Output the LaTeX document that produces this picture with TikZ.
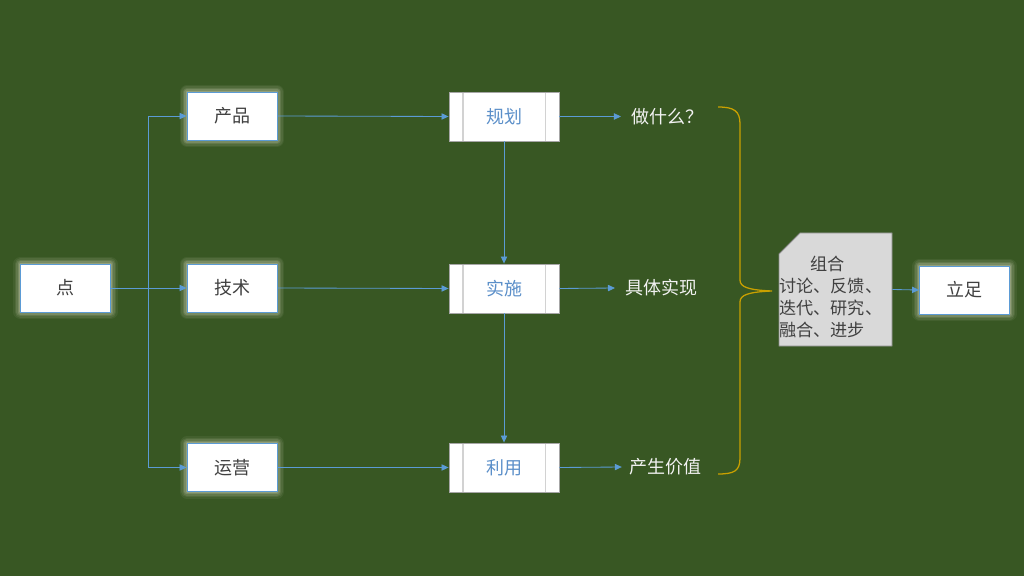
\documentclass[tikz,border=0pt]{standalone}
\usepackage{fontspec}
\setmainfont{Noto Sans CJK SC}
\usetikzlibrary{arrows.meta}
\definecolor{bg}{HTML}{385723}
\definecolor{lblue}{HTML}{5B9BD5}
\definecolor{ptext}{HTML}{5B8FC9}
\definecolor{dtext}{HTML}{404040}
\definecolor{glowc}{HTML}{E0E0C8}
\definecolor{brace}{HTML}{C9A000}
\definecolor{snipfill}{HTML}{D9D9D9}
\definecolor{snipdraw}{HTML}{8C8C8C}
\tikzset{
  glowbox/.style={draw=lblue, line width=0.6pt, fill=white, minimum width=2.25cm, minimum height=1.2cm,
    text=dtext, font=\fontsize{12.8}{15}\selectfont, inner sep=0pt,
    preaction={draw=glowc, line width=10pt, opacity=0.07, line join=round},
    preaction={draw=glowc, line width=8pt, opacity=0.09, line join=round},
    preaction={draw=glowc, line width=6pt, opacity=0.12, line join=round},
    preaction={draw=glowc, line width=4pt, opacity=0.18, line join=round},
    preaction={draw=glowc, line width=2pt, opacity=0.25, line join=round}},
  procbox/.style={draw=gray!70, line width=0.6pt, fill=white, minimum width=2.75cm, minimum height=1.225cm,
    text=ptext, font=\fontsize{12.8}{15}\selectfont, inner sep=0pt,
    path picture={
      \draw[gray!35, line width=0.8pt] ([xshift=0.35cm]path picture bounding box.north west) -- ([xshift=0.35cm]path picture bounding box.south west);
      \draw[gray!35, line width=0.8pt] ([xshift=-0.33cm]path picture bounding box.north east) -- ([xshift=-0.33cm]path picture bounding box.south east);
    }},
  sidetext/.style={text=white!95!black, font=\fontsize{12.8}{15}\selectfont, inner sep=0pt},
  conn/.style={draw=lblue, line width=0.6pt},
  arr/.style={conn, -{Triangle[length=5pt,width=4.5pt]}}
}
\begin{document}
\begin{tikzpicture}[x=0.025cm,y=-0.025cm]
\fill[bg] (0,0) rectangle (1024,576);
\useasboundingbox (0,0) rectangle (1024,576);

\node[glowbox] (dian) at (65.5,288) {点};
\node[glowbox] (chanpin) at (232,116) {产品};
\node[glowbox] (jishu) at (232,288) {技术};
\node[glowbox] (yunying) at (232,467.5) {运营};

\node[procbox] (guihua) at (504,116.5) {规划};
\node[procbox] (shishi) at (504,288.5) {实施};
\node[procbox] (liyong) at (504,467.5) {利用};

\node[sidetext, anchor=west] (zuo) at (631,116.5) {做什么？};
\node[sidetext, anchor=west] (juti) at (625,288) {具体实现};
\node[sidetext, anchor=west] (chansheng) at (629,467) {产生价值};

\node[glowbox] (lizu) at (964.5,290) {立足};

% connectors from dian
\coordinate (split) at (148,288);
\draw[conn] (dian.east) -- (split);
\draw[arr] (split) |- (chanpin.west);
\draw[arr] (split) -- (jishu.west);
\draw[arr] (split) |- (yunying.west);

\draw[arr] (chanpin.east) -- (guihua.west);
\draw[arr] (jishu.east) -- (shishi.west);
\draw[arr] (yunying.east) -- (liyong.west);

\draw[arr] (guihua.south) -- (shishi.north);
\draw[arr] (shishi.south) -- (liyong.north);

\draw[arr] (guihua.east) -- ([xshift=-0.25cm]zuo.west);
\draw[arr] (shishi.east) -- ([xshift=-0.25cm]juti.west);
\draw[arr] (liyong.east) -- ([xshift=-0.18cm]chansheng.west);

% brace
\draw[brace, line width=0.9pt]
  (718,107) .. controls (734,107) and (740,111) .. (740,124) -- (740,280)
  .. controls (740,287) and (748,290) .. (772,291)
  .. controls (748,292) and (740,295) .. (740,302) -- (740,458)
  .. controls (740,471) and (734,474) .. (718,474);

% snip shape
\draw[snipdraw, fill=snipfill, line width=0.6pt] (800,233) -- (892,233) -- (892,346) -- (779,346) -- (779,254) -- cycle;
\node[inner sep=0pt, minimum width=2.825cm, minimum height=2.825cm] (snip) at (835.5,289.5) {};
\node[anchor=north west, inner sep=0pt, align=left, text=dtext, font=\fontsize{12.2}{15.6}\selectfont] (sniptext) at (779,256)
  {\hspace{1.8em}组合\\讨论、反馈、\\迭代、研究、\\融合、进步};

\draw[arr] (snip.east) -- (lizu.west);
\end{tikzpicture}
\end{document}
